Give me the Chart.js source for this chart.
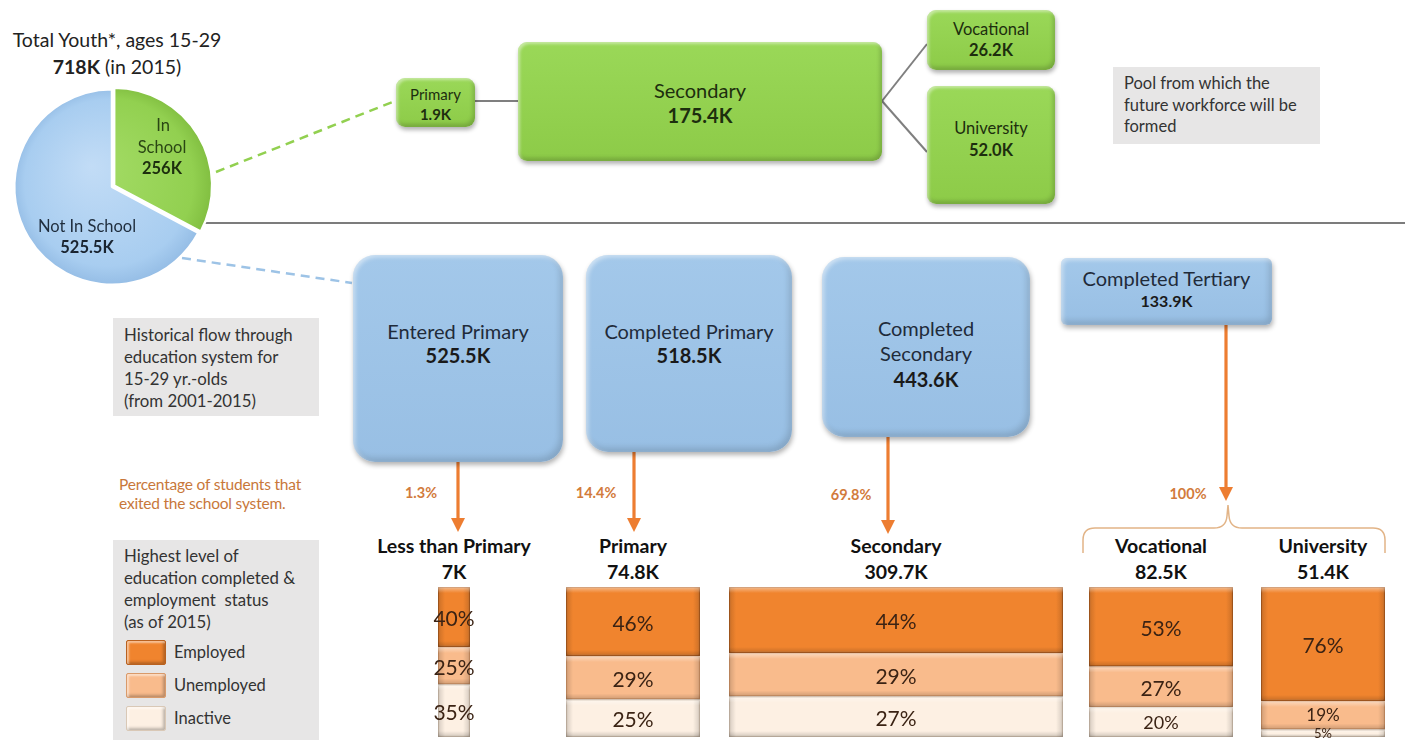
<!DOCTYPE html>
<html><head><meta charset="utf-8">
<script src="https://cdn.jsdelivr.net/npm/chart.js@4.4.1/dist/chart.umd.min.js"></script>
<style>
html,body{margin:0;padding:0;}
body{width:1411px;height:740px;overflow:hidden;position:relative;background:#fff;font-family:Lato,"Open Sans",sans-serif;color:#222;}
.abs{position:absolute;}
.t{position:absolute;white-space:nowrap;text-align:center;transform:translate(-50%,-50%);line-height:1;}
.box{position:absolute;box-sizing:border-box;}
.green{background:linear-gradient(#9ad858,#8dcb48);border-radius:9px;box-shadow:inset 2px 2px 3px rgba(255,255,255,.45),inset -2px -3px 4px rgba(0,0,0,.18),1px 3px 4px rgba(0,0,0,.3);}
.blue{background:linear-gradient(#a3c8ea,#98bfe4);border-radius:22px;box-shadow:inset 2px 2px 4px rgba(255,255,255,.5),inset -3px -4px 6px rgba(0,0,0,.14),1px 3px 5px rgba(0,0,0,.3);}
.gray{background:#e7e6e6;box-sizing:border-box;}
.pct{position:absolute;white-space:nowrap;transform:translate(-50%,-50%);color:#3b2314;line-height:1;pointer-events:none;}
.sw{position:absolute;width:40px;height:25px;border-radius:2px;box-sizing:border-box;box-shadow:inset 2px 2px 2px rgba(255,255,255,.5),inset -2px -2px 3px rgba(0,0,0,.25);}
</style></head><body>
<svg id="lines" class="abs" style="left:0;top:0" width="1411" height="740"></svg>
<div id="pieWrap" class="abs" style="left:8px;top:83px;width:208px;height:208px;"><canvas id="pie"></canvas></div>
<div id="layer"></div>
<script>
// ---------------- DATA ----------------
const pieLabels = ['In School', 'Not In School'];
const pieValues = [256, 525.5];
const pieValueText = ['256K', '525.5K'];

const inSchoolLevels = ['Primary', 'Secondary', 'Vocational', 'University'];
const inSchoolCounts = ['1.9K', '175.4K', '26.2K', '52.0K'];

const flowStages = ['Entered Primary', 'Completed Primary', 'Completed Secondary', 'Completed Tertiary'];
const flowCounts = ['525.5K', '518.5K', '443.6K', '133.9K'];
const exitShares = ['1.3%', '14.4%', '69.8%', '100%'];

const barCategories = ['Less than Primary', 'Primary', 'Secondary', 'Vocational', 'University'];
const barTotals = ['7K', '74.8K', '309.7K', '82.5K', '51.4K'];
const seriesLabels = ['Employed', 'Unemployed', 'Inactive'];
const employed = [40, 46, 44, 53, 76];
const unemployed = [25, 29, 29, 27, 19];
const inactive = [35, 25, 27, 20, 5];

// ---------------- LAYOUT / STYLE ----------------
const seriesColors = ['#f0842e', '#f9bb8c', '#fdf0e3'];
const seriesBorders = ['#b9611f', '#d99a6a', '#d9c8b6'];
const greenLayout = [
  {x:396,y:78,w:79,h:49,ty:[94,114],fs:[15,15]},
  {x:518,y:42,w:364,h:119,ty:[90,115],fs:[20,20]},
  {x:927,y:10,w:128,h:60,ty:[29,50],fs:[16.5,16.5]},
  {x:927,y:86,w:128,h:118,ty:[128,150],fs:[16.5,16.5]}
];
const blueLayout = [
  {x:353,y:255,w:210,h:207,ty:[331,355],fs:[20,20],r:22},
  {x:586,y:255,w:206,h:197,ty:[331,355],fs:[20,20],r:22},
  {x:822,y:257,w:208,h:180,ty:[328,353,379],fs:[20,20],r:22,wrap:true},
  {x:1061,y:258,w:211,h:67,ty:[278,301],fs:[20,16],r:6}
];
const arrowLayout = [
  {x:458,y1:462,y2:532,lx:421,ly:493},
  {x:634,y1:452,y2:532,lx:596,ly:493},
  {x:888,y1:437,y2:534,lx:851,ly:495},
  {x:1226,y1:325,y2:501,lx:1188,ly:494}
];
const barLayout = [
  {x:438,w:32},{x:566,w:134},{x:729,w:334},{x:1089,w:144},{x:1261,w:124}
];
const BAR_TOP = 587, BAR_H = 150;

const layer = document.getElementById('layer');
function addText(txt, x, y, size, opts) {
  opts = opts || {};
  const d = document.createElement('div');
  d.className = 't';
  d.style.left = x + 'px'; d.style.top = y + 'px';
  d.style.fontSize = size + 'px';
  if (opts.bold) d.style.fontWeight = 'bold';
  if (opts.color) d.style.color = opts.color;
  if (opts.html) d.innerHTML = txt; else d.textContent = txt;
  layer.appendChild(d);
  return d;
}
function addBox(cls, L) {
  const d = document.createElement('div');
  d.className = 'box ' + cls;
  d.style.left = L.x + 'px'; d.style.top = L.y + 'px';
  d.style.width = L.w + 'px'; d.style.height = L.h + 'px';
  if (L.r) d.style.borderRadius = L.r + 'px';
  layer.appendChild(d);
}

// ---------- lines / arrows ----------
const svg = document.getElementById('lines');
let s = '';
s += '<line x1="205" y1="223" x2="1405" y2="223" stroke="#505050" stroke-width="1.6"/>';
s += '<line x1="216" y1="172" x2="395" y2="101" stroke="#92d050" stroke-width="2.5" stroke-dasharray="9 6"/>';
s += '<line x1="182" y1="258" x2="352" y2="283" stroke="#9dc3e6" stroke-width="2.5" stroke-dasharray="9 6"/>';
s += '<line x1="475" y1="101" x2="518" y2="101" stroke="#7f7f7f" stroke-width="2"/>';
s += '<line x1="882" y1="101" x2="927" y2="44" stroke="#7f7f7f" stroke-width="2"/>';
s += '<line x1="882" y1="101" x2="927" y2="152" stroke="#7f7f7f" stroke-width="2"/>';
arrowLayout.forEach(a => {
  s += `<line x1="${a.x}" y1="${a.y1}" x2="${a.x}" y2="${a.y2-12}" stroke="#ed7d31" stroke-width="3.2"/>`;
  s += `<polygon points="${a.x-7},${a.y2-14} ${a.x+7},${a.y2-14} ${a.x},${a.y2}" fill="#ed7d31"/>`;
});
s += '<path d="M1083,553 L1083,540 Q1083,528 1095,528 L1214,528 Q1226,528 1227,516 L1228,505 L1229,516 Q1230,528 1242,528 L1373,528 Q1385,528 1385,540 L1385,553" fill="none" stroke="#e2b487" stroke-width="1.5"/>';
svg.innerHTML = s;

// ---------- title ----------
addText('Total Youth*, ages 15-29', 117, 40, 19.5);
addText('<b>718K</b> (in 2015)', 117, 67, 19.5, {html:true});

// ---------- green boxes ----------
greenLayout.forEach((L, i) => {
  addBox('green', L);
  const cx = L.x + L.w / 2;
  addText(inSchoolLevels[i], cx, L.ty[0], L.fs[0], {color:'#1d2e0e'});
  addText(inSchoolCounts[i], cx, L.ty[1], L.fs[1], {bold:true, color:'#1d2e0e'});
});

// ---------- pool box ----------
(function(){
  const d = document.createElement('div');
  d.className = 'gray abs';
  Object.assign(d.style, {left:'1113px', top:'67px', width:'207px', height:'77px', padding:'6px 0 0 11px', fontSize:'16.5px', lineHeight:'21.5px', color:'#333'});
  d.innerHTML = 'Pool from which the<br>future workforce will be<br>formed';
  layer.appendChild(d);
})();

// ---------- blue boxes ----------
blueLayout.forEach((L, i) => {
  addBox('blue', L);
  const cx = L.x + L.w / 2;
  const lines = L.wrap ? flowStages[i].split(' ') : [flowStages[i]];
  lines.forEach((ln, k) => addText(ln, cx, L.ty[k], L.fs[0], {color:'#1f2b3a'}));
  addText(flowCounts[i], cx, L.ty[lines.length], L.fs[1], {bold:true, color:'#1a1a1a'});
});
arrowLayout.forEach((a, i) => addText(exitShares[i], a.lx, a.ly, 14.5, {bold:true, color:'#d27b3c'}));

// ---------- left notes ----------
(function(){
  const d = document.createElement('div');
  d.className = 'gray abs';
  Object.assign(d.style, {left:'113px', top:'318px', width:'206px', height:'98px', padding:'6px 0 0 11px', fontSize:'16.8px', lineHeight:'22px', color:'#333'});
  d.innerHTML = 'Historical flow through<br>education system for<br>15-29 yr.-olds<br>(from 2001-2015)';
  layer.appendChild(d);
  const o = document.createElement('div');
  o.className = 'abs';
  Object.assign(o.style, {left:'119px', top:'475px', fontSize:'15.5px', lineHeight:'19px', color:'#c8773a', letterSpacing:'-0.2px'});
  o.innerHTML = 'Percentage of students that<br>exited the school system.';
  layer.appendChild(o);
  const g = document.createElement('div');
  g.className = 'gray abs';
  Object.assign(g.style, {left:'113px', top:'540px', width:'206px', height:'210px', padding:'5px 0 0 11px', fontSize:'16.8px', lineHeight:'22px', color:'#333'});
  g.innerHTML = 'Highest level of<br>education completed &amp;<br>employment&nbsp; status<br>(as of 2015)';
  layer.appendChild(g);
  seriesLabels.forEach((lab, k) => {
    const sw = document.createElement('div');
    sw.className = 'sw';
    sw.style.left = '126px'; sw.style.top = (640 + k * 33) + 'px';
    sw.style.background = seriesColors[k];
    sw.style.border = '1px solid ' + seriesBorders[k];
    layer.appendChild(sw);
    const t = document.createElement('div');
    t.className = 'abs';
    Object.assign(t.style, {left:'174px', top:(642 + k * 33) + 'px', fontSize:'16.5px', lineHeight:'20px', color:'#333'});
    t.textContent = lab;
    layer.appendChild(t);
  });
})();

// ---------- pie ----------
addText('In', 163, 125, 16.5, {color:'#2a4614'});
addText('School', 162, 147, 16.5, {color:'#2a4614'});
addText(pieValueText[0], 162, 168, 16.5, {bold:true, color:'#1d2e0e'});
addText(pieLabels[1], 87, 226, 16.5, {color:'#1f2d3d'});
addText(pieValueText[1], 87, 247, 16.5, {bold:true, color:'#1a2430'});

const pieShades = [['#a4dc66', '#92d050', '#7cb93c'], ['#c2dcf6', '#a8cdf0', '#8fb8e2']];
function pieFill(c) {
  const sh = pieShades[c.dataIndex] || pieShades[0];
  const ch = c.chart, a = ch.chartArea;
  if (!a) return sh[1];
  const cx = (a.left + a.right) / 2, cy = (a.top + a.bottom) / 2;
  const r = Math.min(a.width, a.height) / 2;
  const g = ch.ctx.createRadialGradient(cx - r * 0.2, cy - r * 0.2, 0, cx, cy, r);
  g.addColorStop(0, sh[0]); g.addColorStop(0.8, sh[1]); g.addColorStop(1, sh[2]);
  return g;
}
new Chart(document.getElementById('pie'), {
  type: 'pie',
  data: {
    labels: pieLabels,
    datasets: [{
      data: pieValues,
      backgroundColor: pieFill,
      borderColor: '#ffffff',
      borderWidth: 2.5,
      offset: [10, 0]
    }]
  },
  options: {
    responsive: true, maintainAspectRatio: false, animation: false,
    layout: {padding: 0},
    plugins: {legend: {display: false}, tooltip: {enabled: false}}
  }
});

// ---------- bottom stacked bars ----------
const bevel = {
  id: 'bevel',
  afterDatasetsDraw(chart) {
    const ctx = chart.ctx;
    chart.data.datasets.forEach((ds, di) => {
      chart.getDatasetMeta(di).data.forEach(el => {
        const l = el.x - el.width / 2, r = el.x + el.width / 2;
        const t = Math.min(el.y, el.base), b = Math.max(el.y, el.base);
        const w = r - l, h = b - t;
        if (h <= 0) return;
        ctx.save();
        let g = ctx.createLinearGradient(l, 0, r, 0);
        const e = Math.min(0.45, 7 / w);
        g.addColorStop(0, 'rgba(0,0,0,0.16)'); g.addColorStop(e, 'rgba(0,0,0,0)');
        g.addColorStop(1 - e, 'rgba(0,0,0,0)'); g.addColorStop(1, 'rgba(0,0,0,0.16)');
        ctx.fillStyle = g; ctx.fillRect(l, t, w, h);
        g = ctx.createLinearGradient(0, t, 0, b);
        const f = Math.min(0.45, 6 / h);
        g.addColorStop(0, 'rgba(255,255,255,0.45)'); g.addColorStop(f, 'rgba(255,255,255,0)');
        g.addColorStop(1 - f, 'rgba(0,0,0,0)'); g.addColorStop(1, 'rgba(0,0,0,0.18)');
        ctx.fillStyle = g; ctx.fillRect(l, t, w, h);
        ctx.restore();
      });
    });
  }
};
const pctLabels = {
  id: 'pctLabels',
  afterDraw(chart) {
    const wrap = chart.canvas.parentNode;
    if (wrap.dataset.done) return;
    wrap.dataset.done = '1';
    const wrapTop = parseFloat(wrap.style.top);
    chart.data.datasets.forEach((ds, di) => {
      chart.getDatasetMeta(di).data.forEach((el, j) => {
        const h = Math.abs(el.base - el.y);
        const fs = Math.max(13, Math.min(21, h * 0.6));
        let cy = (el.y + el.base) / 2;
        const maxCy = 740 - wrapTop - fs / 2 - 1;
        if (cy > maxCy) cy = maxCy;
        const d = document.createElement('div');
        d.className = 'pct';
        d.style.fontSize = fs + 'px';
        d.style.left = el.x + 'px';
        d.style.top = cy + 'px';
        d.textContent = ds.data[j] + '%';
        wrap.appendChild(d);
      });
    });
  }
};

barCategories.forEach((cat, i) => {
  const L = barLayout[i];
  const cx = L.x + L.w / 2;
  addText(cat, cx, 546, 19.5, {bold:true, color:'#111'});
  addText(barTotals[i], cx, 572, 19.5, {bold:true, color:'#111'});
  const wrap = document.createElement('div');
  wrap.className = 'abs';
  Object.assign(wrap.style, {left:L.x + 'px', top:BAR_TOP + 'px', width:L.w + 'px', height:BAR_H + 'px'});
  const cv = document.createElement('canvas');
  wrap.appendChild(cv);
  document.body.appendChild(wrap);
  const vals = [inactive[i], unemployed[i], employed[i]];
  const order = [2, 1, 0];
  new Chart(cv, {
    type: 'bar',
    data: {
      labels: [cat],
      datasets: order.map((k, n) => ({
        label: seriesLabels[k],
        data: [vals[n]],
        backgroundColor: seriesColors[k],
        borderColor: seriesBorders[k],
        borderWidth: 1.5,
        borderSkipped: false,
        categoryPercentage: 1,
        barPercentage: 1
      }))
    },
    options: {
      responsive: true, maintainAspectRatio: false, animation: false,
      layout: {padding: 0},
      plugins: {legend: {display: false}, tooltip: {enabled: false}},
      scales: {
        x: {display: false, stacked: true},
        y: {display: false, stacked: true, min: 0, max: 100}
      }
    },
    plugins: [bevel, pctLabels]
  });
});
</script>
</body></html>
